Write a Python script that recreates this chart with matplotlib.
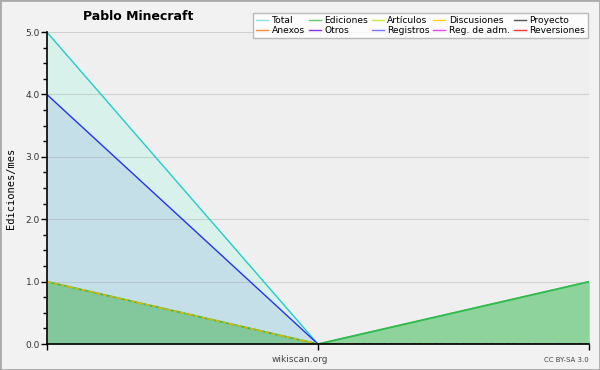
import matplotlib
matplotlib.use("Agg")
import matplotlib.pyplot as plt
from matplotlib.lines import Line2D
from matplotlib.patches import Rectangle
from matplotlib.ticker import MultipleLocator

# data (three months, no labels shown)
months = [0, 1, 2]
total = [5, 0, 1]
registros = [4, 0, 0]
ediciones = [1, 0, 1]
articulos = [1, 0, 0]
discusiones = [1, 0, 0]

legend_names = ["Total", "Anexos", "Ediciones", "Otros", "Artículos",
                "Registros", "Discusiones", "Reg. de adm.", "Proyecto", "Reversiones"]
legend_colors = ["#88e0e0", "#ff8833", "#66cc66", "#8833ee", "#ccee44",
                 "#7777ff", "#ffcc22", "#ee44ee", "#555555", "#ff3333"]

fig = plt.figure(figsize=(6, 3.7), dpi=100, facecolor="#f2f2f2")
ax = fig.add_axes([0.078, 0.070, 0.904, 0.8435])
ax.set_facecolor("#efeff0")

ax.fill_between(months, total, color="#d8f1ea", lw=0, zorder=1)
ax.fill_between(months, registros, color="#c5dfe9", lw=0, zorder=2)
ax.fill_between(months, ediciones, color="#30ac3a", alpha=0.44, lw=0, zorder=3)

ax.plot(months, total, color="#22cccc", lw=1, zorder=5)
ax.plot(months, registros, color="#2233ee", lw=1, zorder=5)
ax.plot(months, ediciones, color="#33bb44", lw=1.3, zorder=5)
ax.plot(months, articulos, color="#c8c020", lw=1.3, ls=(0, (2, 2)), zorder=6)
ax.plot(months, discusiones, color="#d8b020", lw=1.0, ls=(2, (2, 2)), zorder=6)

ax.set_xlim(0, 2)
ax.set_ylim(0, 5)
ax.yaxis.set_major_locator(MultipleLocator(1))
ax.yaxis.set_minor_locator(MultipleLocator(0.25))
ax.set_yticklabels([f"{v:.1f}" for v in ax.get_yticks()])
ax.set_xticks(months)
ax.set_xticklabels([])
ax.grid(axis="y", color="#999999", alpha=0.35, lw=0.8, zorder=4)
ax.set_axisbelow(False)
ax.tick_params(axis="y", which="major", length=4, width=1, labelsize=6.5,
               colors="black", labelcolor="#333333", pad=1)
ax.tick_params(axis="y", which="minor", length=3, width=1)
ax.tick_params(axis="x", length=4, width=1)
for s in ["top", "right"]:
    ax.spines[s].set_visible(False)
for s in ["left", "bottom"]:
    ax.spines[s].set_linewidth(1.2)
    ax.spines[s].set_zorder(10)

ax.set_ylabel("Ediciones/mes", fontsize=7.5, family="DejaVu Sans Mono", labelpad=7)
fig.text(0.23, 0.955, "Pablo Minecraft", fontsize=9, weight="bold", ha="center", va="center")

handles = [Line2D([], [], color=c, lw=1) for c in legend_colors]
leg = fig.legend(handles, legend_names, ncol=5, loc="upper right",
                 bbox_to_anchor=(0.988, 0.978), fontsize=6.6, handlelength=1.3,
                 handletextpad=0.4, columnspacing=0.4, labelspacing=0.1,
                 borderpad=0.35, fancybox=False, frameon=True)
leg.get_frame().set_edgecolor("#aaaaaa")
leg.get_frame().set_facecolor("white")
leg.get_frame().set_linewidth(1)

fig.text(0.5, 0.028, "wikiscan.org", fontsize=6.5, color="#444444", ha="center", va="center")
fig.text(0.982, 0.028, "CC BY-SA 3.0", fontsize=5, color="#444444", ha="right", va="center")

fig.patches.append(Rectangle((0, 0), 1, 1, transform=fig.transFigure, fill=False,
                             edgecolor="#aaaaaa", lw=2))

fig.savefig("out.png", dpi=100, facecolor=fig.get_facecolor())
